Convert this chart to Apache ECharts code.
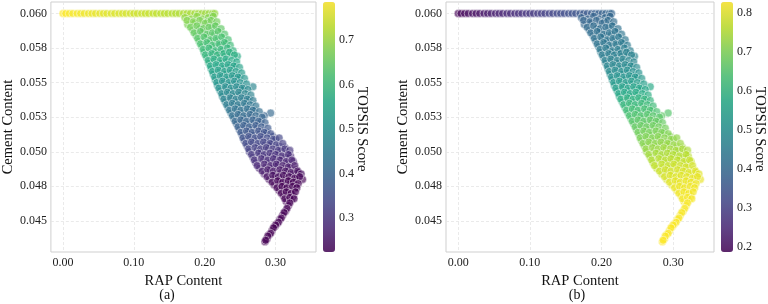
<!DOCTYPE html>
<html><head><meta charset="utf-8">
<script src="https://cdn.jsdelivr.net/npm/echarts@6/dist/echarts.min.js"></script>
<style>html,body{margin:0;padding:0;background:#fff}#c{width:768px;height:304px}</style>
</head><body><div id="c"></div>
<script>
// ---------------- data ----------------
const rapContent = [
 0.000,0.004,0.009,0.014,0.020,0.025,0.030,0.036,0.041,0.046,0.052,0.057,0.062,0.068,0.073,0.079,0.084,0.089,0.095,0.100,0.105,0.111,0.116,0.121,0.127,0.132,0.138,0.143,0.148,0.154,0.159,0.164,0.170,0.175,0.180,0.186,0.191,0.196,0.201,0.206,0.211,0.214,
 0.172,0.181,0.189,0.197,0.205,0.212,
 0.176,0.186,0.196,0.204,0.213,
 0.183,0.193,0.201,0.210,0.218,
 0.188,0.197,0.206,0.214,0.222,
 0.192,0.201,0.209,0.218,0.227,
 0.196,0.204,0.213,0.221,0.230,
 0.199,0.208,0.216,0.225,0.234,
 0.203,0.211,0.220,0.228,0.237,0.246,
 0.206,0.214,0.223,0.231,0.239,
 0.209,0.218,0.226,0.234,0.242,
 0.212,0.221,0.229,0.237,0.245,
 0.215,0.224,0.232,0.240,0.249,
 0.218,0.227,0.235,0.243,0.252,
 0.222,0.230,0.238,0.247,0.255,0.268,
 0.225,0.234,0.242,0.250,0.259,
 0.229,0.237,0.245,0.254,0.262,
 0.233,0.241,0.249,0.258,0.266,
 0.237,0.245,0.253,0.262,0.270,0.293,
 0.241,0.249,0.257,0.266,0.275,0.284,
 0.245,0.253,0.261,0.270,0.279,
 0.249,0.257,0.265,0.274,0.283,
 0.253,0.261,0.269,0.278,0.287,0.296,
 0.256,0.264,0.273,0.281,0.290,0.300,
 0.260,0.268,0.277,0.285,0.294,0.305,0.313,
 0.263,0.274,0.282,0.290,0.298,0.307,0.316,
 0.268,0.279,0.287,0.295,0.304,0.313,0.321,
 0.272,0.283,0.291,0.299,0.308,0.317,0.325,
 0.277,0.286,0.295,0.303,0.312,0.320,0.329,
 0.284,0.292,0.300,0.308,0.316,0.324,0.332,
 0.291,0.299,0.307,0.315,0.322,0.330,0.338,
 0.298,0.306,0.314,0.321,0.329,
 0.305,0.312,0.319,0.327,
 0.311,0.318,0.325,
 0.315,0.322,
 0.318,0.314,0.310,0.306,0.302,0.299,0.295,0.291,0.288,0.285,
 0.175,0.184,0.193,0.201,0.209,0.217,
 0.180,0.189,0.198,0.206,0.215,0.223,
 0.185,0.194,0.203,0.211,0.219,0.228,
 0.190,0.199,0.208,0.216,0.224,0.233,
 0.194,0.203,0.211,0.220,0.228,0.236,
 0.198,0.206,0.215,0.223,0.232,0.240,
 0.201,0.210,0.218,0.227,0.235,0.242,
 0.205,0.213,0.222,0.230,0.238,0.245,
 0.208,0.216,0.225,0.233,0.241,0.249,
 0.211,0.219,0.228,0.236,0.244,0.252,
 0.214,0.222,0.231,0.239,0.247,0.256,
 0.217,0.225,0.234,0.242,0.250,0.259,
 0.220,0.229,0.237,0.245,0.253,0.261,
 0.224,0.232,0.240,0.248,0.257,0.265,
 0.227,0.236,0.244,0.252,0.260,0.268,
 0.231,0.239,0.247,0.256,0.264,0.272,
 0.235,0.243,0.251,0.260,0.268,0.277,
 0.239,0.247,0.255,0.264,0.272,0.281,
 0.243,0.251,0.259,0.268,0.276,0.285,
 0.247,0.255,0.263,0.272,0.280,0.289,
 0.251,0.259,0.267,0.276,0.284,0.293,
 0.254,0.262,0.271,0.279,0.288,0.297,0.305,
 0.258,0.266,0.275,0.283,0.292,0.301,0.310,
 0.262,0.271,0.279,0.287,0.296,0.304,0.313,0.320,
 0.266,0.276,0.284,0.292,0.300,0.309,0.318,
 0.270,0.280,0.289,0.297,0.306,0.315,0.323,
 0.274,0.284,0.293,0.301,0.310,0.318,0.327,
 0.281,0.289,0.297,0.306,0.314,0.322,0.331,0.336,
 0.288,0.296,0.304,0.311,0.319,0.327,0.334,
 0.295,0.303,0.310,0.318,0.325,0.332,
 0.302,0.309,0.316,0.324,0.330,
 0.308,0.315,0.322,0.328,
 0.313,0.320,0.326,
 0.320,0.316,0.312,0.308,0.304,0.300,0.297,0.293,0.289,0.286
];
const cementContent = [
 0.060,0.060,0.060,0.060,0.060,0.060,0.060,0.060,0.060,0.060,0.060,0.060,0.060,0.060,0.060,0.060,0.060,0.060,0.060,0.060,0.060,0.060,0.060,0.060,0.060,0.060,0.060,0.060,0.060,0.060,0.060,0.060,0.060,0.060,0.060,0.060,0.060,0.060,0.060,0.060,0.060,0.060,
 0.0597,0.0596,0.0598,0.0596,0.0597,0.0598,
 0.0592,0.0593,0.0591,0.0594,0.0592,
 0.0588,0.0589,0.0587,0.0590,0.0588,
 0.0584,0.0586,0.0584,0.0585,0.0583,
 0.0580,0.0582,0.0580,0.0581,0.0580,
 0.0576,0.0578,0.0576,0.0577,0.0578,
 0.0572,0.0574,0.0572,0.0573,0.0571,
 0.0568,0.0570,0.0568,0.0569,0.0570,0.0569,
 0.0564,0.0566,0.0564,0.0565,0.0563,
 0.0560,0.0562,0.0560,0.0561,0.0562,
 0.0556,0.0558,0.0556,0.0557,0.0555,
 0.0552,0.0554,0.0552,0.0553,0.0554,
 0.0548,0.0550,0.0548,0.0549,0.0547,
 0.0544,0.0546,0.0544,0.0545,0.0546,0.0547,
 0.0540,0.0542,0.0540,0.0541,0.0539,
 0.0536,0.0538,0.0536,0.0537,0.0538,
 0.0532,0.0534,0.0532,0.0533,0.0531,
 0.0528,0.0530,0.0528,0.0529,0.0530,0.0528,
 0.0524,0.0526,0.0524,0.0525,0.0523,0.0526,
 0.0520,0.0522,0.0520,0.0521,0.0522,
 0.0516,0.0518,0.0516,0.0517,0.0515,
 0.0512,0.0514,0.0512,0.0513,0.0514,0.0511,
 0.0508,0.0510,0.0508,0.0509,0.0507,0.0509,
 0.0504,0.0506,0.0504,0.0505,0.0506,0.0504,0.0503,
 0.0500,0.0501,0.0500,0.0502,0.0500,0.0501,0.0499,
 0.0496,0.0498,0.0496,0.0497,0.0498,0.0496,0.0497,
 0.0492,0.0494,0.0492,0.0493,0.0494,0.0492,0.0493,
 0.0488,0.0489,0.0488,0.0490,0.0488,0.0489,0.0487,
 0.0484,0.0486,0.0484,0.0485,0.0486,0.0484,0.0485,
 0.0480,0.0482,0.0480,0.0481,0.0479,0.0481,0.0480,
 0.0476,0.0478,0.0476,0.0477,0.0476,
 0.0472,0.0474,0.0472,0.0473,
 0.0468,0.0470,0.0468,
 0.0464,0.0465,
 0.0461,0.0457,0.0454,0.0451,0.0448,0.0446,0.0443,0.0440,0.0437,0.0435,
 0.0595,0.0594,0.0595,0.0593,0.0595,0.0594,
 0.0590,0.0591,0.0589,0.0590,0.0591,0.0589,
 0.0586,0.0587,0.0585,0.0586,0.0587,0.0585,
 0.0582,0.0583,0.0581,0.0582,0.0583,0.0581,
 0.0578,0.0579,0.0577,0.0578,0.0579,0.0577,
 0.0574,0.0575,0.0573,0.0574,0.0575,0.0573,
 0.0570,0.0571,0.0570,0.0571,0.0572,0.0570,
 0.0566,0.0567,0.0566,0.0567,0.0566,0.0565,
 0.0562,0.0563,0.0562,0.0563,0.0562,0.0561,
 0.0558,0.0559,0.0558,0.0559,0.0558,0.0557,
 0.0554,0.0555,0.0554,0.0555,0.0554,0.0553,
 0.0550,0.0551,0.0550,0.0551,0.0550,0.0549,
 0.0546,0.0547,0.0546,0.0547,0.0546,0.0545,
 0.0542,0.0543,0.0542,0.0543,0.0542,0.0541,
 0.0538,0.0539,0.0538,0.0539,0.0538,0.0537,
 0.0534,0.0535,0.0534,0.0535,0.0534,0.0533,
 0.0530,0.0531,0.0530,0.0531,0.0530,0.0529,
 0.0526,0.0527,0.0526,0.0527,0.0526,0.0525,
 0.0522,0.0523,0.0522,0.0523,0.0522,0.0521,
 0.0518,0.0519,0.0518,0.0519,0.0518,0.0517,
 0.0514,0.0515,0.0514,0.0515,0.0514,0.0513,
 0.0510,0.0511,0.0510,0.0511,0.0510,0.0509,0.0510,
 0.0506,0.0507,0.0506,0.0507,0.0506,0.0505,0.0506,
 0.0502,0.0503,0.0502,0.0503,0.0502,0.0501,0.0502,0.0501,
 0.0498,0.0499,0.0498,0.0499,0.0498,0.0497,0.0498,
 0.0494,0.0495,0.0494,0.0495,0.0494,0.0493,0.0494,
 0.0490,0.0491,0.0490,0.0491,0.0490,0.0489,0.0490,
 0.0486,0.0487,0.0486,0.0487,0.0486,0.0485,0.0486,0.0484,
 0.0482,0.0483,0.0482,0.0483,0.0482,0.0481,0.0482,
 0.0478,0.0479,0.0478,0.0479,0.0478,0.0477,
 0.0474,0.0475,0.0474,0.0475,0.0474,
 0.0470,0.0471,0.0470,0.0471,
 0.0466,0.0467,0.0466,
 0.0463,0.0459,0.0456,0.0452,0.0449,0.0447,0.0445,0.0441,0.0439,0.0436
];
const scoreA = [
 0.785,0.783,0.781,0.779,0.777,0.775,0.772,0.770,0.768,0.766,0.763,0.761,0.759,0.756,0.754,0.752,0.750,0.748,0.745,0.743,0.741,0.738,0.736,0.734,0.732,0.730,0.727,0.725,0.723,0.720,0.718,0.716,0.714,0.712,0.709,0.707,0.705,0.703,0.701,0.698,0.696,0.695,
 0.691,0.687,0.684,0.681,0.677,0.674,
 0.673,0.669,0.665,0.662,0.658,
 0.655,0.651,0.648,0.644,0.641,
 0.640,0.636,0.633,0.629,0.626,
 0.628,0.624,0.621,0.617,0.614,
 0.612,0.608,0.605,0.601,0.598,
 0.597,0.593,0.590,0.586,0.583,
 0.581,0.578,0.575,0.571,0.568,0.564,
 0.567,0.563,0.560,0.557,0.553,
 0.552,0.548,0.545,0.542,0.538,
 0.537,0.533,0.530,0.527,0.523,
 0.522,0.518,0.515,0.512,0.508,
 0.507,0.503,0.500,0.497,0.493,
 0.492,0.489,0.486,0.482,0.479,0.474,
 0.477,0.473,0.470,0.467,0.463,
 0.461,0.457,0.454,0.451,0.447,
 0.446,0.442,0.439,0.436,0.432,
 0.430,0.427,0.424,0.420,0.417,0.408,
 0.414,0.411,0.408,0.404,0.401,0.397,
 0.399,0.395,0.392,0.389,0.385,
 0.384,0.380,0.377,0.374,0.370,
 0.367,0.364,0.361,0.357,0.354,0.350,
 0.352,0.349,0.345,0.342,0.338,0.334,
 0.336,0.333,0.329,0.326,0.322,0.318,0.315,
 0.322,0.318,0.314,0.311,0.308,0.304,0.301,
 0.306,0.301,0.298,0.295,0.291,0.288,0.284,
 0.291,0.286,0.283,0.280,0.276,0.273,0.269,
 0.274,0.271,0.267,0.264,0.260,0.257,0.254,
 0.258,0.254,0.251,0.248,0.245,0.241,0.238,
 0.240,0.237,0.234,0.231,0.229,0.227,0.226,
 0.230,0.228,0.227,0.226,0.226,
 0.227,0.226,0.226,0.225,
 0.226,0.225,0.225,
 0.225,0.225,
 0.226,0.225,0.225,0.225,0.225,0.224,0.224,0.224,0.224,0.224,
 0.680,0.676,0.673,0.669,0.665,0.662,
 0.662,0.658,0.655,0.651,0.648,0.644,
 0.647,0.643,0.640,0.636,0.633,0.629,
 0.634,0.630,0.627,0.623,0.620,0.616,
 0.619,0.615,0.612,0.608,0.605,0.602,
 0.604,0.600,0.597,0.593,0.590,0.586,
 0.589,0.585,0.582,0.578,0.575,0.572,
 0.574,0.570,0.567,0.563,0.560,0.557,
 0.559,0.555,0.552,0.548,0.545,0.542,
 0.544,0.540,0.537,0.533,0.530,0.527,
 0.529,0.525,0.522,0.518,0.515,0.511,
 0.514,0.510,0.507,0.503,0.500,0.496,
 0.499,0.495,0.492,0.488,0.485,0.482,
 0.484,0.480,0.477,0.473,0.470,0.466,
 0.468,0.464,0.461,0.458,0.454,0.451,
 0.453,0.449,0.446,0.442,0.439,0.436,
 0.437,0.433,0.430,0.426,0.423,0.419,
 0.421,0.417,0.414,0.410,0.407,0.403,
 0.406,0.402,0.399,0.395,0.392,0.388,
 0.391,0.387,0.384,0.380,0.377,0.373,
 0.375,0.371,0.368,0.364,0.361,0.357,
 0.359,0.356,0.352,0.349,0.345,0.342,0.338,
 0.344,0.340,0.337,0.333,0.330,0.326,0.323,
 0.329,0.325,0.322,0.318,0.315,0.311,0.308,0.305,
 0.312,0.308,0.305,0.301,0.298,0.294,0.291,
 0.297,0.293,0.290,0.286,0.283,0.279,0.276,
 0.281,0.277,0.274,0.270,0.267,0.263,0.260,
 0.265,0.261,0.258,0.254,0.251,0.247,0.244,0.242,
 0.249,0.245,0.242,0.238,0.235,0.232,0.230,
 0.234,0.232,0.230,0.229,0.228,0.227,
 0.229,0.228,0.227,0.226,0.226,
 0.227,0.226,0.226,0.225,
 0.226,0.225,0.225,
 0.225,0.225,0.225,0.225,0.225,0.224,0.224,0.224,0.224,0.224
];
const scoreB = [
 0.190,0.194,0.199,0.203,0.209,0.214,0.219,0.224,0.229,0.234,0.239,0.244,0.249,0.255,0.259,0.265,0.270,0.275,0.280,0.285,0.290,0.295,0.300,0.305,0.311,0.315,0.321,0.326,0.331,0.336,0.341,0.346,0.352,0.356,0.361,0.367,0.371,0.376,0.381,0.386,0.390,0.393,
 0.382,0.386,0.389,0.392,0.396,0.399,
 0.397,0.401,0.405,0.408,0.412,
 0.408,0.412,0.415,0.419,0.422,
 0.418,0.422,0.425,0.428,0.432,
 0.423,0.427,0.430,0.434,0.437,
 0.433,0.437,0.440,0.443,0.447,
 0.443,0.447,0.450,0.454,0.457,
 0.452,0.455,0.458,0.462,0.465,0.469,
 0.463,0.467,0.470,0.473,0.477,
 0.478,0.482,0.485,0.488,0.492,
 0.493,0.497,0.500,0.503,0.507,
 0.513,0.517,0.520,0.523,0.527,
 0.533,0.537,0.540,0.543,0.547,
 0.551,0.554,0.557,0.561,0.564,0.569,
 0.573,0.577,0.580,0.583,0.587,
 0.593,0.597,0.600,0.603,0.607,
 0.613,0.617,0.620,0.623,0.627,
 0.630,0.633,0.636,0.640,0.643,0.652,
 0.647,0.650,0.653,0.657,0.660,0.664,
 0.663,0.667,0.670,0.673,0.677,
 0.678,0.682,0.685,0.688,0.692,
 0.692,0.695,0.698,0.702,0.705,0.709,
 0.702,0.705,0.709,0.712,0.716,0.720,
 0.715,0.718,0.722,0.725,0.729,0.733,0.736,
 0.729,0.733,0.736,0.740,0.743,0.747,0.750,
 0.739,0.744,0.747,0.750,0.754,0.757,0.761,
 0.754,0.759,0.762,0.765,0.769,0.772,0.776,
 0.770,0.773,0.777,0.780,0.784,0.787,0.790,
 0.780,0.784,0.787,0.790,0.793,0.797,0.800,
 0.792,0.795,0.798,0.800,0.803,0.806,0.808,
 0.806,0.808,0.810,0.812,0.814,
 0.812,0.814,0.815,0.817,
 0.817,0.819,0.820,
 0.821,0.822,
 0.823,0.824,0.824,0.825,0.825,0.826,0.826,0.827,0.827,0.828,
 0.392,0.395,0.399,0.402,0.406,0.409,
 0.405,0.409,0.412,0.416,0.419,0.423,
 0.415,0.418,0.422,0.425,0.428,0.432,
 0.422,0.425,0.429,0.432,0.435,0.439,
 0.430,0.434,0.437,0.441,0.444,0.447,
 0.440,0.443,0.447,0.450,0.454,0.457,
 0.449,0.452,0.456,0.459,0.463,0.466,
 0.459,0.462,0.466,0.469,0.472,0.475,
 0.472,0.475,0.479,0.482,0.485,0.489,
 0.487,0.490,0.494,0.497,0.500,0.504,
 0.503,0.507,0.510,0.514,0.517,0.521,
 0.523,0.527,0.530,0.534,0.537,0.541,
 0.543,0.547,0.550,0.554,0.557,0.560,
 0.563,0.567,0.570,0.574,0.577,0.581,
 0.583,0.587,0.590,0.593,0.597,0.600,
 0.603,0.607,0.610,0.614,0.617,0.620,
 0.623,0.627,0.630,0.634,0.637,0.641,
 0.640,0.644,0.647,0.651,0.654,0.658,
 0.655,0.659,0.662,0.666,0.669,0.673,
 0.670,0.674,0.677,0.681,0.684,0.688,
 0.685,0.689,0.692,0.696,0.699,0.703,
 0.697,0.700,0.704,0.707,0.711,0.714,0.718,
 0.708,0.711,0.715,0.718,0.722,0.725,0.729,
 0.722,0.725,0.729,0.732,0.736,0.739,0.743,0.746,
 0.736,0.740,0.743,0.747,0.750,0.754,0.757,
 0.750,0.754,0.757,0.761,0.764,0.768,0.771,
 0.765,0.769,0.772,0.776,0.779,0.783,0.786,
 0.777,0.781,0.784,0.788,0.791,0.795,0.798,0.800,
 0.789,0.793,0.796,0.799,0.802,0.805,0.807,
 0.801,0.804,0.807,0.809,0.811,0.813,
 0.809,0.811,0.813,0.815,0.816,
 0.815,0.817,0.818,0.819,
 0.819,0.821,0.822,
 0.823,0.823,0.824,0.825,0.825,0.826,0.826,0.827,0.827,0.828
];
const xTickValues = [0, 0.1, 0.2, 0.3];
const xTickLabels = ['0.00', '0.10', '0.20', '0.30'];
const yTickValues = [0.045, 0.0475, 0.05, 0.0525, 0.055, 0.0575, 0.06];
const yTickLabels = ['0.045', '0.048', '0.050', '0.053', '0.055', '0.058', '0.060'];
const cbTicksA = [0.3, 0.4, 0.5, 0.6, 0.7];
const cbTicksB = [0.2, 0.3, 0.4, 0.5, 0.6, 0.7, 0.8];
const cbRangeA = [0.224, 0.785];
const cbRangeB = [0.186, 0.829];
const xTitle = 'RAP Content';
const yTitle = 'Cement Content';
const cbTitle = 'TOPSIS Score';
const panelLabels = ['(a)', '(b)'];

// ---------------- styling ----------------
const FONT = 'Liberation Serif';
const viridis = [[68,1,84],[72,36,117],[65,68,135],[53,95,141],[42,120,142],[33,145,140],[34,168,132],[68,191,112],[122,209,81],[189,223,38],[253,231,37]];
const viridisA = viridis.map(c => 'rgba(' + c[0] + ',' + c[1] + ',' + c[2] + ',0.82)');

function lookup(vals, labels) {
  return function (v) {
    for (let i = 0; i < vals.length; i++) if (Math.abs(vals[i] - v) < 1e-7) return labels[i];
    return '';
  };
}
const n = Math.min(rapContent.length, cementContent.length, scoreA.length, scoreB.length);
const ptsA = [], ptsB = [];
for (let i = 0; i < n; i++) {
  ptsA.push([rapContent[i], cementContent[i], scoreA[i]]);
  ptsB.push([rapContent[i], cementContent[i], scoreB[i]]);
}

const plotLefts = [48, 446];
const cbLefts = [323, 721];
const TOP = 2, H = 250, W = 268;

const grids = [], xAxes = [], yAxes = [], series = [], vms = [], graphics = [];
[0, 1].forEach(p => {
  grids.push({left: plotLefts[p], top: TOP, width: W, height: H, show: true, borderColor: '#cfcfcf', borderWidth: 1, backgroundColor: '#fff'});
  xAxes.push({type: 'value', gridIndex: p, min: -0.017, max: 0.357,
    axisLine: {show: false}, axisTick: {show: false, customValues: xTickValues},
    axisLabel: {customValues: xTickValues, formatter: lookup(xTickValues, xTickLabels), fontFamily: FONT, fontSize: 12, color: '#222', margin: 5},
    splitLine: {show: true, lineStyle: {color: '#e4e4e4', type: [3, 2], width: 0.8}},
    name: xTitle, nameLocation: 'middle', nameGap: 11, nameTextStyle: {fontFamily: FONT, fontSize: 14.5, color: '#111'}});
  yAxes.push({type: 'value', gridIndex: p, min: 0.04275, max: 0.06083,
    axisLine: {show: false}, axisTick: {show: false, customValues: yTickValues},
    axisLabel: {customValues: yTickValues, formatter: lookup(yTickValues, yTickLabels), fontFamily: FONT, fontSize: 12, color: '#222', margin: 4},
    splitLine: {show: true, lineStyle: {color: '#e4e4e4', type: [3, 2], width: 0.8}},
    name: yTitle, nameLocation: 'middle', nameGap: 34, nameTextStyle: {fontFamily: FONT, fontSize: 14.5, color: '#111'}});
});
[0, 1].forEach(p => {
  const rng = p === 0 ? cbRangeA : cbRangeB;
  const ticks = p === 0 ? cbTicksA : cbTicksB;
  grids.push({left: cbLefts[p], top: TOP, width: 12, height: H, show: false});
  xAxes.push({type: 'value', gridIndex: 2 + p, show: false, min: 0, max: 1});
  yAxes.push({type: 'value', gridIndex: 2 + p, position: 'right', min: rng[0], max: rng[1],
    axisLine: {show: false}, axisTick: {show: false, customValues: ticks},
    axisLabel: {customValues: ticks, formatter: v => v.toFixed(1), fontFamily: FONT, fontSize: 12, color: '#222', margin: 4},
    splitLine: {show: false}});
});
const markStyle = {borderColor: 'rgba(255,255,255,0.9)', borderWidth: 0.7};
series.push({type: 'scatter', xAxisIndex: 0, yAxisIndex: 0, data: ptsA, symbolSize: 8, itemStyle: markStyle});
series.push({type: 'scatter', xAxisIndex: 1, yAxisIndex: 1, data: ptsB, symbolSize: 8, itemStyle: markStyle});
series.push({type: 'scatter', xAxisIndex: 2, yAxisIndex: 2, data: []});
series.push({type: 'scatter', xAxisIndex: 3, yAxisIndex: 3, data: []});
[0, 1].forEach(p => {
  const rng = p === 0 ? cbRangeA : cbRangeB;
  vms.push({type: 'continuous', seriesIndex: p, dimension: 2, min: rng[0], max: rng[1],
    left: cbLefts[p], top: TOP, itemWidth: 12, itemHeight: H, padding: 0,
    calculable: false, realtime: false, orient: 'vertical', inRange: {color: viridisA},
    textStyle: {color: 'transparent'}});
});
const cbTitleX = [362, 760];
const panelX = [167, 577];
[0, 1].forEach(p => {
  graphics.push({type: 'text', x: cbTitleX[p], y: 129, rotation: -Math.PI / 2,
    style: {text: cbTitle, fontFamily: FONT, fontSize: 14.5, fill: '#111', align: 'center', verticalAlign: 'middle'}});
  graphics.push({type: 'text', x: panelX[p], y: 295,
    style: {text: panelLabels[p], fontFamily: FONT, fontSize: 14, fill: '#111', align: 'center', verticalAlign: 'middle'}});
});

const chart = echarts.init(document.getElementById('c'), null, {renderer: 'canvas'});
chart.setOption({
  backgroundColor: '#fff', animation: false,
  grid: grids, xAxis: xAxes, yAxis: yAxes, series: series, visualMap: vms, graphic: graphics
});
</script>
</body></html>
